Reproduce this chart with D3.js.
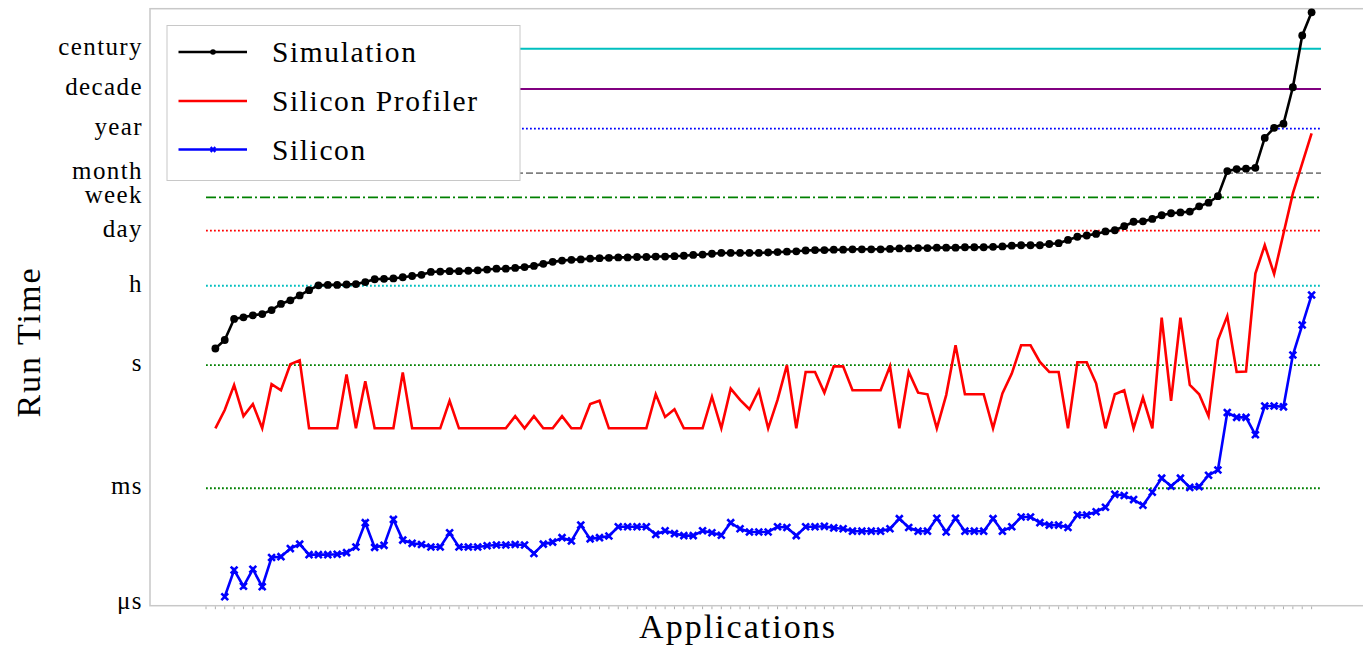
<!DOCTYPE html>
<html>
<head>
<meta charset="utf-8">
<script src="https://cdn.jsdelivr.net/npm/d3@7"></script>
<style>
  body { margin: 0; background: #fff; }
  text { font-family: "Liberation Serif", "Times New Roman", serif; fill: #000; }
</style>
</head>
<body>
<svg id="chart" width="1363" height="647"></svg>
<script>
// run times per application, stored as log10 of the plotted value
const simulation = [
  0.41, 0.62, 1.14, 1.18, 1.23, 1.26, 1.36, 1.51, 1.60, 1.72,
  1.85, 1.97, 1.98, 1.98, 1.99, 2.00, 2.05, 2.12, 2.13, 2.14,
  2.17, 2.20, 2.23, 2.30, 2.31, 2.32, 2.32, 2.33, 2.34, 2.36,
  2.38, 2.38, 2.40, 2.42, 2.45, 2.50, 2.55, 2.58, 2.60, 2.61,
  2.63, 2.64, 2.65, 2.66, 2.66, 2.67, 2.67, 2.68, 2.68, 2.69,
  2.70, 2.72, 2.73, 2.75, 2.77, 2.77, 2.77, 2.77, 2.77, 2.78,
  2.79, 2.80, 2.81, 2.83, 2.84, 2.84, 2.85, 2.85, 2.86, 2.86,
  2.86, 2.86, 2.87, 2.88, 2.88, 2.89, 2.89, 2.90, 2.90, 2.90,
  2.91, 2.91, 2.91, 2.92, 2.93, 2.95, 2.96, 2.96, 2.96, 2.99,
  3.01, 3.09, 3.17, 3.20, 3.24, 3.30, 3.33, 3.43, 3.54, 3.55,
  3.61, 3.70, 3.75, 3.77, 3.79, 3.92, 4.01, 4.17, 4.79, 4.84,
  4.85, 4.87, 5.61, 5.86, 5.96, 6.86, 8.14, 8.71
];

const siliconProfiler = [
  -1.56, -1.11, -0.49, -1.26, -0.96, -1.56, -0.47, -0.62, 0.02, 0.12,
  -1.56, -1.56, -1.56, -1.56, -0.23, -1.56, -0.40, -1.56, -1.56, -1.56,
  -0.18, -1.56, -1.56, -1.56, -1.56, -0.88, -1.56, -1.56, -1.56, -1.56,
  -1.56, -1.56, -1.26, -1.56, -1.26, -1.56, -1.56, -1.26, -1.56, -1.56,
  -0.96, -0.88, -1.56, -1.56, -1.56, -1.56, -1.56, -0.72, -1.28, -1.09,
  -1.56, -1.56, -1.56, -0.78, -1.56, -0.58, -0.86, -1.09, -0.62, -1.56,
  -0.86, 0.00, -1.56, -0.17, -0.17, -0.68, -0.03, -0.03, -0.62, -0.62,
  -0.62, -0.62, -0.03, -1.56, -0.17, -0.68, -0.72, -1.56, -0.74, 0.49,
  -0.72, -0.72, -0.72, -1.56, -0.70, -0.21, 0.49, 0.49, 0.08, -0.17,
  -0.17, -1.56, 0.07, 0.07, -0.45, -1.56, -0.72, -0.62, -1.56, -0.80,
  -1.56, 1.17, -0.88, 1.17, -0.49, -0.72, -1.26, 0.62, 1.21, -0.17,
  -0.16, 2.26, 2.96, 2.25, 3.25, 4.24, 4.98, 5.72
];

const silicon = [
  null, -5.72, -5.06, -5.46, -5.04, -5.47, -4.75, -4.73, -4.53, -4.42,
  -4.68, -4.68, -4.68, -4.67, -4.63, -4.49, -3.89, -4.50, -4.45, -3.81,
  -4.32, -4.40, -4.43, -4.49, -4.49, -4.14, -4.49, -4.49, -4.49, -4.46,
  -4.44, -4.44, -4.43, -4.44, -4.65, -4.42, -4.37, -4.26, -4.34, -3.95,
  -4.29, -4.26, -4.22, -3.99, -3.99, -3.99, -3.99, -4.18, -4.09, -4.16,
  -4.21, -4.21, -4.09, -4.14, -4.20, -3.89, -4.04, -4.12, -4.12, -4.12,
  -3.99, -4.01, -4.21, -3.99, -3.99, -3.98, -4.02, -4.04, -4.10, -4.10,
  -4.10, -4.10, -4.04, -3.79, -4.01, -4.10, -4.10, -3.78, -4.12, -3.78,
  -4.10, -4.10, -4.10, -3.79, -4.10, -3.99, -3.75, -3.75, -3.89, -3.95,
  -3.95, -4.01, -3.70, -3.70, -3.62, -3.51, -3.19, -3.22, -3.32, -3.46,
  -3.14, -2.79, -2.99, -2.79, -3.02, -3.00, -2.72, -2.59, -1.17, -1.29,
  -1.29, -1.72, -1.01, -1.01, -1.03, 0.25, 0.99, 1.73
];

const seriesNames = ["Simulation", "Silicon Profiler", "Silicon"];

// y tick labels and where they sit (log10 of plotted value)
const tickLabels = ["μs", "ms", "s", "h", "day", "week", "month", "year", "decade", "century"];
const tickExp = [-5.88, -3.04, 0, 1.96, 3.32, 4.14, 4.74, 5.84, 6.82, 7.81];

// horizontal marker lines, one per label (μs has none)
const dotted = "1.8,2.2";
const refStyle = {
  century: { color: "#00bfbf", dash: null, width: 2 },
  decade: { color: "#800080", dash: null, width: 2 },
  year: { color: "#0000ff", dash: dotted, width: 1.8 },
  month: { color: "#808080", dash: "7,3", width: 1.8 },
  week: { color: "#008000", dash: "10,3,2,3", width: 1.8 },
  day: { color: "#ff0000", dash: dotted, width: 1.8 },
  h: { color: "#00bfbf", dash: dotted, width: 1.8 },
  s: { color: "#008000", dash: dotted, width: 1.8 },
  ms: { color: "#008000", dash: dotted, width: 1.8 }
};

const seriesColor = { "Simulation": "#000", "Silicon Profiler": "#ff0000", "Silicon": "#0000ff" };

const frameLeft = 150, frameRight = 1378, frameTop = 8.7, frameBottom = 605.7;
const svg = d3.select("#chart");
const n = simulation.length;

const x = d3.scaleLinear().domain([-1, n - 1]).range([206, 1311.6]);
const y = d3.scaleLog().domain([Math.pow(10, -5.94), Math.pow(10, 8.8)]).range([frameBottom, frameTop]);
const yv = e => y(Math.pow(10, e));

// frame
svg.append("rect")
  .attr("x", frameLeft).attr("y", frameTop)
  .attr("width", frameRight - frameLeft).attr("height", frameBottom - frameTop)
  .attr("fill", "none")
  .attr("stroke", "#c8c8c8")
  .attr("stroke-width", 1.5);

// x ticks, one per application
svg.append("g")
  .selectAll("line")
  .data(d3.range(-1, n))
  .enter()
  .append("line")
  .attr("x1", d => x(d)).attr("x2", d => x(d))
  .attr("y1", frameBottom + 0.8).attr("y2", frameBottom + 3.5)
  .attr("stroke", "#999")
  .attr("stroke-width", 0.8);

// y tick labels
svg.append("g")
  .selectAll("text")
  .data(tickLabels)
  .enter()
  .append("text")
  .attr("x", 143)
  .attr("y", (d, i) => yv(tickExp[i]))
  .attr("dy", "0.24em")
  .attr("text-anchor", "end")
  .attr("font-size", 25)
  .attr("letter-spacing", 1.4)
  .text(d => d);

// reference lines
const refs = tickLabels.map((d, i) => ({ label: d, e: tickExp[i] })).filter(d => refStyle[d.label]);
svg.append("g")
  .selectAll("line")
  .data(refs)
  .enter()
  .append("line")
  .attr("x1", x(-1)).attr("x2", x(n))
  .attr("y1", d => yv(d.e)).attr("y2", d => yv(d.e))
  .attr("stroke", d => refStyle[d.label].color)
  .attr("stroke-width", d => refStyle[d.label].width)
  .attr("stroke-dasharray", d => refStyle[d.label].dash);

const line = d3.line()
  .defined(d => d != null)
  .x((d, i) => x(i))
  .y(d => yv(d));

const plot = svg.append("g");

// Simulation
plot.append("path")
  .datum(simulation)
  .attr("d", line)
  .attr("fill", "none")
  .attr("stroke", seriesColor["Simulation"])
  .attr("stroke-width", 2.6);
plot.selectAll("circle.sim")
  .data(simulation)
  .enter()
  .append("circle")
  .attr("class", "sim")
  .attr("cx", (d, i) => x(i))
  .attr("cy", d => yv(d))
  .attr("r", 3.9)
  .attr("fill", "#000");

// Silicon Profiler
plot.append("path")
  .datum(siliconProfiler)
  .attr("d", line)
  .attr("fill", "none")
  .attr("stroke", seriesColor["Silicon Profiler"])
  .attr("stroke-width", 2.6);

// Silicon
plot.append("path")
  .datum(silicon)
  .attr("d", line)
  .attr("fill", "none")
  .attr("stroke", seriesColor["Silicon"])
  .attr("stroke-width", 2.6);

const xMark = s => "M" + (-s) + "," + (-s) + "L" + s + "," + s + "M" + (-s) + "," + s + "L" + s + "," + (-s);
plot.selectAll("path.xm")
  .data(silicon.map((d, i) => ({ v: d, i: i })).filter(d => d.v != null))
  .enter()
  .append("path")
  .attr("class", "xm")
  .attr("transform", d => "translate(" + x(d.i) + "," + yv(d.v) + ")")
  .attr("d", xMark(3.4))
  .attr("stroke", "#0000ff")
  .attr("stroke-width", 2.6)
  .attr("fill", "none");

// legend
const lg = svg.append("g");
lg.append("rect")
  .attr("x", 167).attr("y", 25.5)
  .attr("width", 353).attr("height", 155)
  .attr("fill", "#fff")
  .attr("stroke", "#c8c8c8")
  .attr("stroke-width", 1);

const rowY = [52, 101, 149.5];
seriesNames.forEach((name, i) => {
  const g = lg.append("g").attr("transform", "translate(0," + rowY[i] + ")");
  g.append("line")
    .attr("x1", 178.5).attr("x2", 247)
    .attr("stroke", seriesColor[name])
    .attr("stroke-width", 2.6);
  if (name === "Simulation") {
    g.append("circle").attr("cx", 213).attr("cy", 0).attr("r", 2.8).attr("fill", "#000");
  }
  if (name === "Silicon") {
    g.append("path").attr("transform", "translate(213,0)")
      .attr("d", xMark(2.4))
      .attr("stroke", "#0000ff").attr("stroke-width", 2.2).attr("fill", "none");
  }
  g.append("text")
    .attr("x", 272)
    .attr("dy", "0.35em")
    .attr("font-size", 29.5)
    .attr("letter-spacing", 1.6)
    .text(name);
});

// axis titles
svg.append("text")
  .attr("transform", "translate(40," + 342 + ") rotate(-90)")
  .attr("text-anchor", "middle")
  .attr("font-size", 34)
  .attr("letter-spacing", 2)
  .text("Run Time");

svg.append("text")
  .attr("x", 738)
  .attr("y", 638)
  .attr("text-anchor", "middle")
  .attr("font-size", 34)
  .attr("letter-spacing", 2)
  .text("Applications");
</script>
</body>
</html>
